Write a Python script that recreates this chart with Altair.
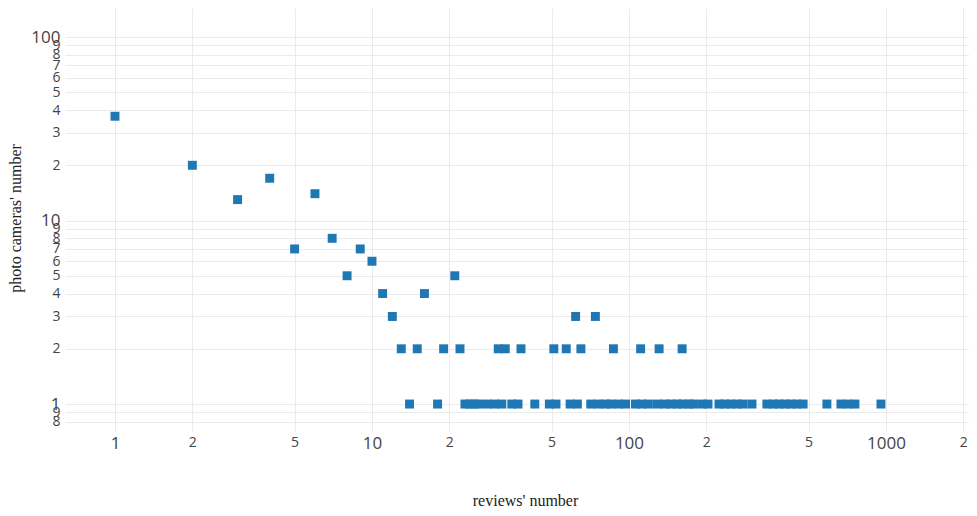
import altair as alt
import pandas as pd

# review counts with more than one camera, and their camera counts
reviews_multi = [1, 2, 3, 4, 5, 6, 7, 8, 9, 10, 11, 12, 13, 15, 16, 19, 21, 22,
                 31, 33, 38, 51, 57, 62, 65, 74, 87, 111, 131, 161]
cameras_multi = [37, 20, 13, 17, 7, 14, 8, 5, 7, 6, 4, 3, 2, 2, 4, 2, 5, 2,
                 2, 2, 2, 2, 2, 3, 2, 3, 2, 2, 2, 2]

# review counts that occur for exactly one camera
reviews_single = [14, 18, 23, 24, 25, 26, 28, 30, 32, 35, 37, 43, 49, 52, 59, 63,
                  71, 76, 81, 85, 91, 97, 106, 112, 119, 129, 138, 146, 154, 162,
                  171, 178, 192, 203, 224, 236, 249, 263, 278, 301, 344, 364, 384,
                  405, 427, 451, 476, 589, 668, 711, 757, 956]

x_ticks = [1, 2, 5, 10, 20, 50, 100, 200, 500, 1000, 2000]
y_ticks = [0.8, 0.9, 1, 2, 3, 4, 5, 6, 7, 8, 9, 10, 20, 30, 40, 50, 60, 70, 80, 90, 100]

df = pd.DataFrame({
    "reviews": reviews_multi + reviews_single,
    "cameras": cameras_multi + [1] * len(reviews_single),
})

mant = "round(datum.value / pow(10, floor(log(datum.value) / LN10 + 1e-6)))"
label_expr = f"{mant} == 1 ? format(datum.value, 'd') : format({mant}, 'd')"
size_cond = {"condition": {"test": f"{mant} == 1", "value": 17}, "value": 14}

common_axis = dict(
    values=None,
    labelExpr=label_expr,
    labelFontSize=size_cond,
    labelFont="Open Sans",
    labelColor="#444444",
    labelOverlap=False,
    labelFlush=False,
    labelBound=False,
    ticks=False,
    tickSize=0,
    domain=False,
    grid=True,
    gridColor="#ebebeb",
    gridWidth=1,
    titleFont="Liberation Serif",
    titleFontSize=16,
    titleFontWeight="normal",
    titleColor="#222222",
)

x_axis = dict(common_axis)
x_axis.update(values=x_ticks, labelPadding=4, title="reviews' number",
              titleX=460, titleY=74, titleBaseline="alphabetic", titleAlign="center")
y_axis = dict(common_axis)
y_axis.update(values=y_ticks, labelPadding=5, title="photo cameras' number",
              titleX=-45, titleY=210, titleBaseline="alphabetic", titleAlign="center",
              titleAngle=270)

chart = alt.Chart(df).mark_square(size=80, color="#1f77b4", opacity=1).encode(
    x=alt.X("reviews:Q",
            scale=alt.Scale(type="log", domain=[0.639, 2104], nice=False),
            axis=alt.Axis(**x_axis)),
    y=alt.Y("cameras:Q",
            scale=alt.Scale(type="log", domain=[0.713, 143.9], nice=False),
            axis=alt.Axis(**y_axis)),
).properties(
    width=904,
    height=423,
    autosize=alt.AutoSizeParams(type="none"),
    padding={"left": 57, "top": 0, "right": 0, "bottom": 77},
    background="white",
).configure_view(strokeWidth=0)

chart.save("out.html", embed_options={"renderer": "svg", "actions": False})
